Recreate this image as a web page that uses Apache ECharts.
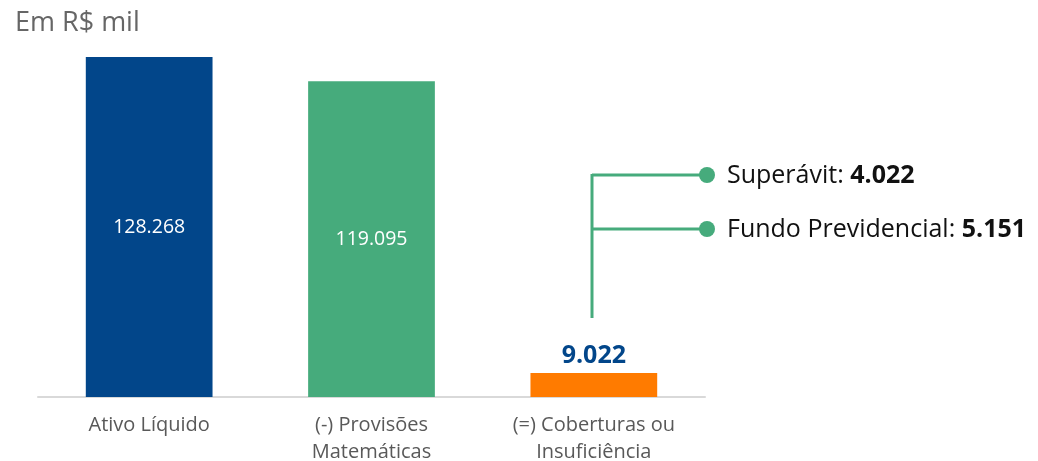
<!DOCTYPE html>
<html>
<head>
<meta charset="utf-8">
<script src="https://cdn.jsdelivr.net/npm/echarts@6/dist/echarts.min.js"></script>
<style>
	html, body { margin: 0; padding: 0; background: #fff; }
	#chart { width: 1038px; height: 461px; }
</style>
</head>
<body>
<div id="chart"></div>
<script>
var categories = ["Ativo Líquido", "(-) Provisões\nMatemáticas", "(=) Coberturas ou\nInsuficiência"];
var values = [128268, 119095, 9022];
var valueLabels = ["128.268", "119.095", "9.022"];
var barColors = ["#02468a", "#46ab7c", "#ff7b00"];
var noteNames = ["Superávit: ", "Fundo Previdencial: "];
var noteValues = ["4.022", "5.151"];

var font = "'Open Sans', 'Noto Sans', sans-serif";
var green = "#46ab7c";

var chart = echarts.init(document.getElementById("chart"));

var barData = values.map(function (v, i) {
	var big = i < 2;
	return {
		value: v,
		itemStyle: { color: barColors[i] },
		label: {
			show: true,
			position: big ? "inside" : "top",
			distance: 5,
			formatter: valueLabels[i],
			color: big ? "#ffffff" : "#02468a",
			fontSize: big ? 19.5 : 25,
			fontWeight: big ? "normal" : "bold",
			fontFamily: font,
		},
	};
});

// callout lines next to the last bar
var noteYs = [175, 229];
var graphics = [
	{
		type: "text",
		left: 15,
		top: 10,
		style: { text: "Em R$ mil", fill: "#666666", fontSize: 27, fontFamily: font },
	},
	{
		type: "line",
		shape: { x1: 592, y1: 174, x2: 592, y2: 318 },
		style: { stroke: green, lineWidth: 3 },
	},
];
noteYs.forEach(function (y, i) {
	graphics.push({
		type: "line",
		shape: { x1: 592, y1: y, x2: 707, y2: y },
		style: { stroke: green, lineWidth: 3 },
	});
	graphics.push({
		type: "circle",
		shape: { cx: 707, cy: y, r: 8 },
		style: { fill: green },
	});
	graphics.push({
		type: "text",
		x: 727,
		y: y + 1,
		style: {
			text: "{n|" + noteNames[i] + "}{b|" + noteValues[i] + "}",
			verticalAlign: "middle",
			rich: {
				n: { fontSize: 25, fontFamily: font, fill: "#111111", color: "#111111" },
				b: { fontSize: 25, fontFamily: font, fontWeight: "bold", fill: "#111111", color: "#111111" },
			},
		},
	});
});

var option = {
	animation: false,
	grid: { left: 38, right: 333, top: 57, bottom: 64, outerBoundsMode: "none", containLabel: false },
	xAxis: {
		type: "category",
		data: categories,
		axisTick: { show: false },
		axisLine: { lineStyle: { color: "#d9d9d9", width: 2 } },
		axisLabel: {
			color: "#595959",
			fontSize: 20,
			fontFamily: font,
			lineHeight: 27,
			margin: 15,
		},
	},
	yAxis: {
		type: "value",
		min: 0,
		max: 128268,
		show: false,
		splitLine: { show: false },
	},
	series: [
		{
			type: "bar",
			data: barData,
			barWidth: "57%",
		},
	],
	graphic: graphics,
};

chart.setOption(option);
</script>
</body>
</html>
